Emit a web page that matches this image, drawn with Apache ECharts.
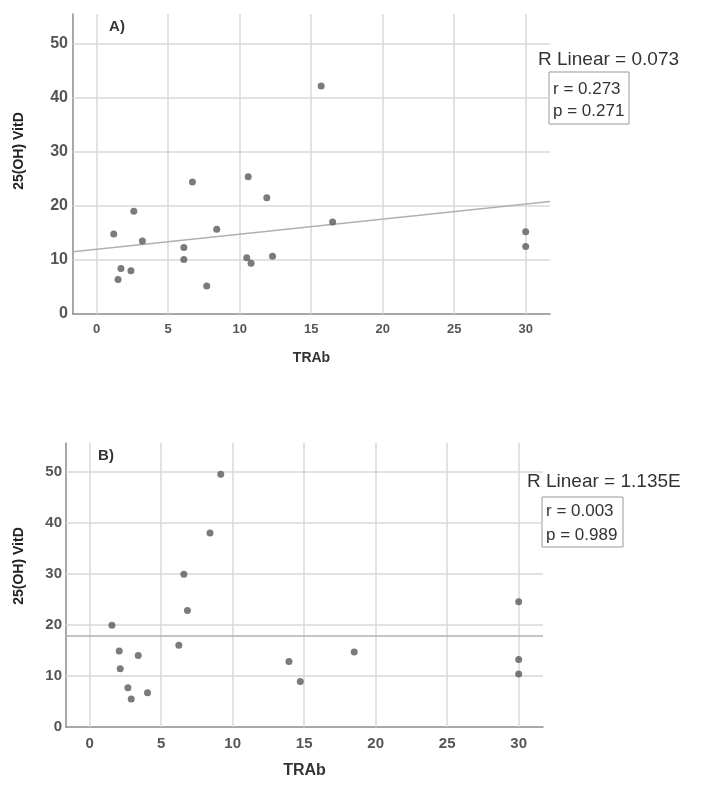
<!DOCTYPE html>
<html>
<head>
<meta charset="utf-8">
<script src="https://cdn.jsdelivr.net/npm/echarts@6/dist/echarts.min.js"></script>
<style>
html,body{margin:0;padding:0;background:#fff;}
#chart{width:701px;height:789px;}
</style>
</head>
<body>
<div id="chart"></div>
<script>
// ---- Data ----
const xTicks = [0, 5, 10, 15, 20, 25, 30];
const yTicks = [0, 10, 20, 30, 40, 50];

const panelALabel = 'A)';
const panelBLabel = 'B)';
const xTitle = 'TRAb';
const yTitle = '25(OH) VitD';

const aTRAb = [1.2, 1.7, 1.5, 2.4, 2.6, 3.2, 6.1, 6.1, 6.7, 7.7, 8.4, 10.6, 10.5, 10.8, 11.9, 12.3, 15.7, 16.5, 30, 30];
const aVitD = [14.8, 8.4, 6.4, 8.0, 19.0, 13.5, 12.3, 10.1, 24.4, 5.2, 15.7, 25.4, 10.4, 9.4, 21.5, 10.7, 42.2, 17.0, 15.2, 12.5];
const aFitX = [-1.65, 31.7];
const aFitY = [11.5, 20.8];
const aStats = ['R Linear = 0.073', 'r = 0.273', 'p = 0.271'];

const bTRAb = [1.56, 2.07, 2.14, 2.68, 2.91, 3.40, 4.05, 6.24, 6.59, 6.84, 8.42, 9.17, 13.94, 14.73, 18.5, 30, 30, 30];
const bVitD = [19.9, 14.9, 11.4, 7.7, 5.5, 14.0, 6.7, 16.0, 29.9, 22.8, 38.0, 49.5, 12.8, 8.9, 14.7, 24.5, 13.2, 10.4];
const bFitX = [-1.65, 31.7];
const bFitY = [17.8, 17.8];
const bStats = ['R Linear = 1.135E', 'r = 0.003', 'p = 0.989'];

const xMin = -1.65, xMax = 31.7;

// ---- Build ----
const zip = (xs, ys) => xs.map((x, i) => [x, ys[i]]);
const gridColor = '#d9d9d9';
const axisColor = '#8c8c8c';
const dotColor = '#5a5a5a';

function xAxisCfg(gridIndex, labelSize, nameSize, nameGap) {
  return {
    type: 'value', gridIndex, min: xMin, max: xMax,
    name: xTitle, nameLocation: 'middle', nameGap,
    nameTextStyle: { fontFamily: 'Liberation Sans', fontWeight: 'bold', fontSize: nameSize, color: '#333' },
    axisLine: { show: true, onZero: false, lineStyle: { color: axisColor, width: 1.5 } },
    axisTick: { show: false, customValues: xTicks },
    axisLabel: { customValues: xTicks, margin: 9, fontFamily: 'Liberation Sans', fontWeight: 'bold', fontSize: labelSize, color: '#555' },
    splitLine: { show: false }
  };
}
function yAxisCfg(gridIndex, max, labelSize, margin) {
  return {
    type: 'value', gridIndex, min: 0, max, interval: 10,
    axisLine: { show: true, onZero: false, lineStyle: { color: axisColor, width: 1.5 } },
    axisTick: { show: false, customValues: yTicks },
    axisLabel: { customValues: yTicks, margin, fontFamily: 'Liberation Sans', fontWeight: 'bold', fontSize: labelSize, color: '#555' },
    splitLine: { show: false }
  };
}

function gridLineSeries(idx) {
  return {
    type: 'scatter', xAxisIndex: idx, yAxisIndex: idx, data: [], z: 1, silent: true,
    markLine: {
      silent: true, symbol: 'none', animation: false, z: 1,
      label: { show: false },
      lineStyle: { color: gridColor, width: 1.5, type: 'solid' },
      data: xTicks.map(v => ({ xAxis: v })).concat(yTicks.filter(v => v > 0).map(v => ({ yAxis: v })))
    }
  };
}

function statsGraphics(stats, tx, ty, box, l1, l2) {
  return [
    { type: 'text', left: tx, top: ty, style: { text: stats[0], font: '19px "Liberation Sans"', fill: '#333' } },
    { type: 'rect', shape: { x: box[0], y: box[1], width: box[2], height: box[3] },
      style: { fill: '#fff', stroke: '#999', lineWidth: 1 } },
    { type: 'text', x: box[0] + 4, y: l1, style: { text: stats[1], font: '17px "Liberation Sans"', fill: '#333', verticalAlign: 'middle' } },
    { type: 'text', x: box[0] + 4, y: l2, style: { text: stats[2], font: '17px "Liberation Sans"', fill: '#333', verticalAlign: 'middle' } }
  ];
}

const option = {
  backgroundColor: '#fff',
  animation: false,
  grid: [
    { left: 73, top: 14, width: 477, height: 300 },
    { left: 66, top: 443, width: 477, height: 284 }
  ],
  xAxis: [xAxisCfg(0, 13, 14, 37), xAxisCfg(1, 15, 16, 36)],
  yAxis: [yAxisCfg(0, 55.5, 16, 5), yAxisCfg(1, 55.6, 15, 4)],
  series: [
    gridLineSeries(0),
    gridLineSeries(1),
    { type: 'line', xAxisIndex: 0, yAxisIndex: 0, data: zip(aFitX, aFitY), symbol: 'none',
      lineStyle: { color: '#b0b0b0', width: 1.5 }, z: 3 },
    { type: 'scatter', xAxisIndex: 0, yAxisIndex: 0, data: zip(aTRAb, aVitD), symbolSize: 7,
      itemStyle: { color: dotColor }, z: 6 },
    { type: 'line', xAxisIndex: 1, yAxisIndex: 1, data: zip(bFitX, bFitY), symbol: 'none',
      lineStyle: { color: '#b0b0b0', width: 1.5 }, z: 3 },
    { type: 'scatter', xAxisIndex: 1, yAxisIndex: 1, data: zip(bTRAb, bVitD), symbolSize: 7,
      itemStyle: { color: dotColor }, z: 6 }
  ],
  graphic: [
    { type: 'text', x: 117, y: 27, style: { text: panelALabel, font: 'bold 15px "Liberation Sans"', fill: '#333', align: 'center', verticalAlign: 'middle' } },
    { type: 'text', x: 106, y: 456, style: { text: panelBLabel, font: 'bold 15px "Liberation Sans"', fill: '#333', align: 'center', verticalAlign: 'middle' } },
    { type: 'text', x: 19, y: 151, rotation: Math.PI / 2, style: { text: yTitle, font: 'bold 14px "Liberation Sans"', fill: '#222', align: 'center', verticalAlign: 'middle' } },
    { type: 'text', x: 19, y: 566, rotation: Math.PI / 2, style: { text: yTitle, font: 'bold 14px "Liberation Sans"', fill: '#222', align: 'center', verticalAlign: 'middle' } }
  ]
    .concat(statsGraphics(aStats, 538, 50, [549, 72, 80, 52], 89, 111))
    .concat(statsGraphics(bStats, 527, 472, [542, 497, 81, 50], 511, 535))
};

const chart = echarts.init(document.getElementById('chart'), null, { renderer: 'canvas' });
chart.setOption(option);
</script>
</body>
</html>
